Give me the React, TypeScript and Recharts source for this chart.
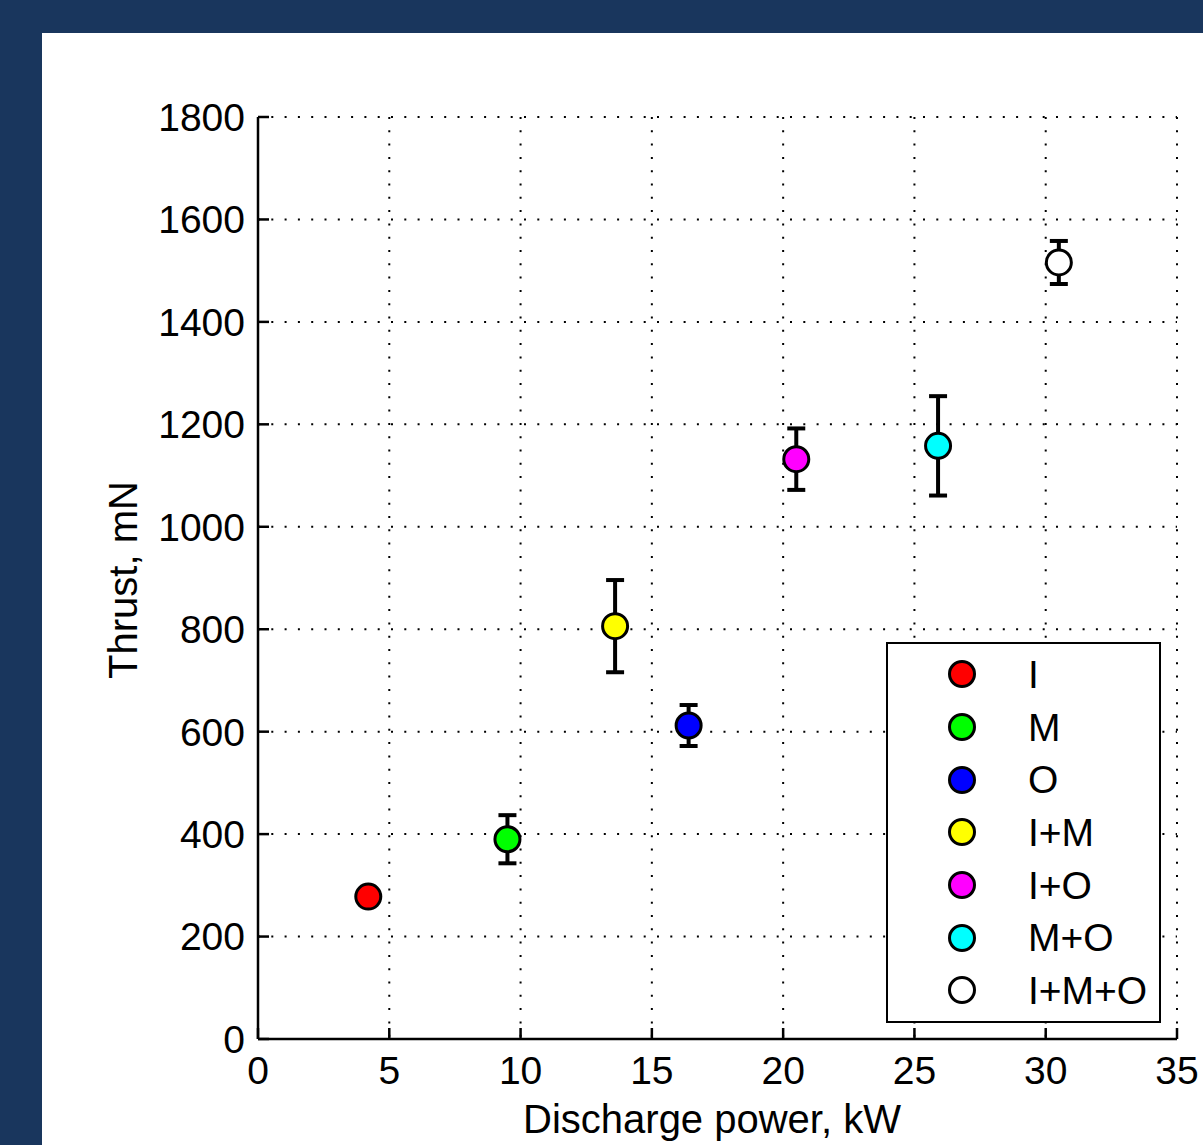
import {
  ScatterChart,
  Scatter,
  XAxis,
  YAxis,
  CartesianGrid,
  ErrorBar,
  Legend,
} from "recharts";

// measured series, one point per propellant config
const labels = ["I", "M", "O", "I+M", "I+O", "M+O", "I+M+O"];
const power = [4.2, 9.5, 16.4, 13.6, 20.5, 25.9, 30.5];
const thrust = [278, 390, 612, 806, 1132, 1158, 1516];
const thrustErr = [12, 47, 40, 90, 60, 97, 42];
const colors = ["#ff0000", "#00ff00", "#0000ff", "#ffff00", "#ff00ff", "#00ffff", "#ffffff"];

const xTicks = [0, 5, 10, 15, 20, 25, 30, 35];
const yTicks = [0, 200, 400, 600, 800, 1000, 1200, 1400, 1600, 1800];

const FONT = "'Liberation Sans', Arial, sans-serif";
const NAVY = "#19365d";

const makeMarker = (fill: string) => (props: any) => {
  const { cx, cy } = props;
  return <circle cx={cx} cy={cy} r={12.5} fill={fill} stroke="#000" strokeWidth={3} />;
};

function LegendBox() {
  return (
    <div
      style={{
        width: 271,
        height: 373,
        border: "2px solid #000",
        background: "#fff",
        boxSizing: "content-box",
        paddingTop: 4,
      }}
    >
      {labels.map((l, i) => (
        <div key={l} style={{ height: 52.7, display: "flex", alignItems: "center" }}>
          <svg width={140} height={40} style={{ flex: "none" }}>
            <circle cx={74} cy={20} r={12.5} fill={colors[i]} stroke="#000" strokeWidth={3} />
          </svg>
          <span style={{ fontFamily: FONT, fontSize: 39, color: "#000", lineHeight: 1 }}>{l}</span>
        </div>
      ))}
    </div>
  );
}

export default function App() {
  const tickStyle = { fontFamily: FONT, fontSize: 39, fill: "#000" };

  return (
    <div style={{ position: "absolute", left: 0, top: 0, width: 1203, height: 1145, background: NAVY, overflow: "hidden" }}>
      <div style={{ position: "absolute", left: 42, top: 33, width: 1161, height: 1112, background: "#fff" }} />

      <div style={{ position: "absolute", left: 0, top: 0 }}>
        <ScatterChart width={1203} height={1145} margin={{ top: 117, right: 26, bottom: 46, left: 100 }}>
          <CartesianGrid
            stroke="#000"
            strokeWidth={2}
            strokeDasharray="2 11.3"
            horizontalValues={yTicks}
            verticalValues={xTicks}
          />
          <XAxis
            type="number"
            dataKey="x"
            domain={[0, 35]}
            ticks={xTicks}
            interval={0}
            height={60}
            tickSize={-11}
            tickMargin={28}
            tick={tickStyle}
            axisLine={{ stroke: "#000", strokeWidth: 2.5 }}
            tickLine={{ stroke: "#000", strokeWidth: 2.5 }}
          />
          <XAxis
            xAxisId="top"
            orientation="top"
            type="number"
            domain={[0, 35]}
            ticks={xTicks}
            interval={0}
            height={0}
            tickSize={-11}
            tick={false}
            axisLine={{ stroke: "#000", strokeWidth: 2.5 }}
            tickLine={{ stroke: "#000", strokeWidth: 2.5 }}
          />
          <YAxis
            type="number"
            dataKey="y"
            domain={[0, 1800]}
            ticks={yTicks}
            interval={0}
            width={158}
            tickSize={-11}
            tickMargin={24}
            tick={tickStyle}
            axisLine={{ stroke: "#000", strokeWidth: 2.5 }}
            tickLine={{ stroke: "#000", strokeWidth: 2.5 }}
          />
          <YAxis
            yAxisId="right"
            orientation="right"
            type="number"
            domain={[0, 1800]}
            ticks={yTicks}
            interval={0}
            width={0}
            tickSize={-11}
            tick={false}
            axisLine={{ stroke: "#000", strokeWidth: 2.5 }}
            tickLine={{ stroke: "#000", strokeWidth: 2.5 }}
          />
          {labels.map((l, i) => (
            <Scatter
              key={l}
              name={l}
              data={[{ x: power[i], y: thrust[i], err: thrustErr[i] }]}
              fill={colors[i]}
              shape={makeMarker(colors[i])}
              isAnimationActive={false}
            >
              <ErrorBar dataKey="err" direction="y" width={9} stroke="#000" strokeWidth={4} isAnimationActive={false} />
            </Scatter>
          ))}
          <Legend
            layout="vertical"
            align="center"
            verticalAlign="middle"
            content={() => <LegendBox />}
            wrapperStyle={{ position: "absolute", left: 886, top: 642, width: 275, height: 381 }}
          />
        </ScatterChart>
      </div>

      <div
        style={{
          position: "absolute",
          left: 712,
          top: 1119,
          transform: "translate(-50%, -50%)",
          fontFamily: FONT,
          fontSize: 40,
          color: "#000",
          whiteSpace: "nowrap",
        }}
      >
        Discharge power, kW
      </div>
      <div
        style={{
          position: "absolute",
          left: 123,
          top: 580,
          transform: "translate(-50%, -50%) rotate(-90deg)",
          fontFamily: FONT,
          fontSize: 40,
          color: "#000",
          whiteSpace: "nowrap",
        }}
      >
        Thrust, mN
      </div>
    </div>
  );
}
